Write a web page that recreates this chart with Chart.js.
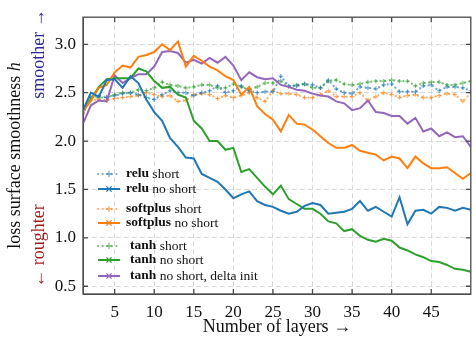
<!DOCTYPE html>
<html>
<head>
<meta charset="utf-8">
<script src="https://cdn.jsdelivr.net/npm/chart.js@4.4.1/dist/chart.umd.min.js"></script>
<style>
  html, body { margin: 0; padding: 0; background: #fff; }
  #wrap { width: 476px; height: 339px; }
</style>
</head>
<body>
<div id="wrap"><canvas id="chart" width="476" height="339"></canvas></div>
<script>
// number of layers on the x axis
const layers = [1,2,3,4,5,6,7,8,9,10,11,12,13,14,15,16,17,18,19,20,21,22,23,24,25,
  26,27,28,29,30,31,32,33,34,35,36,37,38,39,40,41,42,43,44,45,46,47,48,49,50];
const xTicks = [5, 10, 15, 20, 25, 30, 35, 40, 45];
const yTicks = [0.5, 1.0, 1.5, 2.0, 2.5, 3.0];

// smoothness per depth
const reluShort = [2.28,2.45,2.47,2.45,2.47,2.49,2.50,2.48,2.45,2.43,2.48,2.52,2.50,2.50,2.47,2.50,2.52,2.57,2.50,2.52,
  2.57,2.52,2.50,2.51,2.51,2.67,2.57,2.57,2.59,2.58,2.55,2.63,2.54,2.50,2.49,2.56,2.55,2.54,2.58,2.59,
  2.51,2.51,2.51,2.57,2.58,2.52,2.56,2.56,2.55,2.52];
const reluNoShort = [2.32,2.50,2.46,2.63,2.64,2.55,2.67,2.60,2.43,2.30,2.21,2.03,1.94,1.83,1.82,1.66,1.62,1.58,1.50,1.41,
  1.45,1.48,1.38,1.34,1.32,1.28,1.25,1.27,1.33,1.36,1.34,1.25,1.26,1.27,1.30,1.38,1.28,1.32,1.27,1.22,
  1.42,1.14,1.28,1.29,1.25,1.32,1.31,1.28,1.31,1.29];
const softplusShort = [2.30,2.42,2.43,2.42,2.44,2.45,2.46,2.47,2.50,2.48,2.46,2.47,2.41,2.42,2.48,2.49,2.48,2.44,2.47,2.45,
  2.47,2.50,2.45,2.41,2.52,2.49,2.49,2.48,2.45,2.45,2.48,2.52,2.46,2.46,2.46,2.50,2.42,2.46,2.50,2.48,
  2.45,2.47,2.48,2.45,2.45,2.47,2.49,2.48,2.41,2.50];
const softplusNoShort = [2.31,2.42,2.55,2.58,2.71,2.78,2.76,2.87,2.89,2.92,3.00,2.94,3.03,2.77,2.88,2.83,2.77,2.73,2.67,2.63,
  2.48,2.56,2.36,2.28,2.22,2.10,2.27,2.18,2.17,2.12,2.05,1.98,1.93,1.93,1.96,1.90,1.88,1.86,1.80,1.84,
  1.82,1.72,1.84,1.77,1.72,1.72,1.73,1.67,1.61,1.67];
const tanhShort = [2.30,2.45,2.45,2.45,2.48,2.50,2.50,2.53,2.52,2.55,2.61,2.58,2.57,2.55,2.56,2.58,2.58,2.55,2.55,2.59,
  2.56,2.53,2.56,2.60,2.60,2.62,2.56,2.58,2.59,2.55,2.55,2.62,2.63,2.59,2.58,2.59,2.61,2.62,2.62,2.63,
  2.62,2.62,2.57,2.60,2.61,2.61,2.58,2.58,2.60,2.62];
const tanhNoShort = [2.32,2.43,2.56,2.64,2.65,2.65,2.65,2.75,2.72,2.62,2.55,2.56,2.48,2.45,2.21,2.13,2.00,2.00,1.91,1.93,
  1.68,1.71,1.62,1.53,1.45,1.54,1.40,1.35,1.30,1.30,1.25,1.17,1.15,1.07,1.09,1.02,0.98,0.96,0.99,0.97,
  0.90,0.87,0.83,0.80,0.76,0.75,0.72,0.68,0.67,0.65];
const tanhDelta = [2.18,2.37,2.42,2.41,2.68,2.60,2.65,2.69,2.69,2.77,2.92,2.93,2.91,2.81,2.84,2.80,2.86,2.81,2.87,2.78,
  2.63,2.71,2.66,2.64,2.65,2.58,2.56,2.53,2.52,2.49,2.47,2.46,2.41,2.39,2.32,2.34,2.42,2.30,2.29,2.26,
  2.26,2.18,2.24,2.10,2.13,2.05,2.09,2.04,2.05,1.94];

const BLUE = '#1f77b4', ORANGE = '#ff7f0e', GREEN = '#2ca02c', PURPLE = '#9467bd';
const fade = c => c + 'a0';

const series = [
  { name: 'relu', rest: ' short', values: reluShort, color: BLUE, dotted: true, row: 174 },
  { name: 'relu', rest: ' no short', values: reluNoShort, color: BLUE, dotted: false, row: 189 },
  { name: 'softplus', rest: ' short', values: softplusShort, color: ORANGE, dotted: true, row: 209 },
  { name: 'softplus', rest: ' no short', values: softplusNoShort, color: ORANGE, dotted: false, row: 223 },
  { name: 'tanh', rest: ' short', values: tanhShort, color: GREEN, dotted: true, row: 246 },
  { name: 'tanh', rest: ' no short', values: tanhNoShort, color: GREEN, dotted: false, row: 260 },
  { name: 'tanh', rest: ' no short, delta init', values: tanhDelta, color: PURPLE, dotted: false, row: 276 }
];

const SERIF = '"Liberation Serif", "DejaVu Serif", serif';

const datasets = series.map(s => ({
  label: s.name + s.rest,
  data: s.values.map((v, i) => ({ x: layers[i], y: v })),
  borderColor: s.dotted ? fade(s.color) : s.color,
  backgroundColor: s.dotted ? fade(s.color) : s.color,
  borderWidth: s.dotted ? 2.2 : 2,
  borderDash: s.dotted ? [0.1, 4.5] : [],
  borderCapStyle: s.dotted ? 'round' : 'butt',
  pointStyle: 'cross',
  pointRadius: s.dotted ? 2.2 : 0,
  pointBorderWidth: 1.2,
  pointBorderColor: s.dotted ? fade(s.color) : s.color,
  tension: 0,
  clip: 0,
  order: s.dotted ? 1 : 0
}));

function drawMarker(ctx, x, y, r, rotated) {
  ctx.beginPath();
  if (rotated) {
    ctx.moveTo(x - r, y - r); ctx.lineTo(x + r, y + r);
    ctx.moveTo(x - r, y + r); ctx.lineTo(x + r, y - r);
  } else {
    ctx.moveTo(x - r, y); ctx.lineTo(x + r, y);
    ctx.moveTo(x, y - r); ctx.lineTo(x, y + r);
  }
  ctx.stroke();
}

// rotated text made of pieces with their own font and colour
function drawVertical(ctx, cx, cy, pieces) {
  ctx.save();
  ctx.translate(cx, cy);
  ctx.rotate(-Math.PI / 2);
  ctx.textBaseline = 'middle';
  ctx.textAlign = 'left';
  let total = 0;
  pieces.forEach(p => { ctx.font = p.font; total += ctx.measureText(p.text).width; });
  let pos = -total / 2;
  pieces.forEach(p => {
    ctx.font = p.font;
    ctx.fillStyle = p.color;
    ctx.fillText(p.text, pos, 0);
    pos += ctx.measureText(p.text).width;
  });
  ctx.restore();
}

const decorations = {
  id: 'decorations',
  afterDraw(chart) {
    const { ctx, chartArea: a, scales: { x, y } } = chart;
    ctx.save();

    // frame with inward ticks on every side
    ctx.strokeStyle = '#4a4a4a';
    ctx.lineWidth = 1.3;
    ctx.beginPath();
    xTicks.forEach(v => {
      const px = x.getPixelForValue(v);
      ctx.moveTo(px, a.top); ctx.lineTo(px, a.top + 5);
      ctx.moveTo(px, a.bottom); ctx.lineTo(px, a.bottom - 5);
    });
    yTicks.forEach(v => {
      const py = y.getPixelForValue(v);
      ctx.moveTo(a.left, py); ctx.lineTo(a.left + 5, py);
      ctx.moveTo(a.right, py); ctx.lineTo(a.right - 5, py);
    });
    ctx.stroke();
    ctx.strokeRect(a.left, a.top, a.right - a.left, a.bottom - a.top);

    // legend
    ctx.textBaseline = 'middle';
    series.forEach(s => {
      const c = s.dotted ? fade(s.color) : s.color;
      ctx.strokeStyle = c;
      ctx.lineWidth = s.dotted ? 2.2 : 2;
      ctx.lineCap = s.dotted ? 'round' : 'butt';
      ctx.setLineDash(s.dotted ? [0.1, 4.5] : []);
      ctx.beginPath();
      ctx.moveTo(98, s.row); ctx.lineTo(120, s.row);
      ctx.stroke();
      ctx.setLineDash([]);
      ctx.lineWidth = 1.3;
      drawMarker(ctx, 109, s.row, 2.6, !s.dotted);

      const tx = s.name === 'tanh' ? 130 : 126;
      ctx.fillStyle = '#111';
      ctx.font = 'bold 13.5px ' + SERIF;
      ctx.fillText(s.name, tx, s.row);
      const w = ctx.measureText(s.name).width;
      ctx.font = '13.5px ' + SERIF;
      ctx.fillText(s.rest, tx + w, s.row);
    });

    // axis titles
    ctx.fillStyle = '#111';
    ctx.font = '18px ' + SERIF;
    ctx.textAlign = 'center';
    ctx.textBaseline = 'alphabetic';
    ctx.fillText('Number of layers \u2192', (a.left + a.right) / 2, 332);

    drawVertical(ctx, 15, (a.top + a.bottom) / 2, [
      { text: 'loss surface smoothness ', font: '18px ' + SERIF, color: '#111' },
      { text: 'h', font: 'italic 18px ' + SERIF, color: '#111' }
    ]);
    drawVertical(ctx, 39, 54, [{ text: 'smoother \u2192', font: '18px ' + SERIF, color: '#2b2b96' }]);
    drawVertical(ctx, 39, 246, [{ text: '\u2190 roughter', font: '18px ' + SERIF, color: '#9e1b1b' }]);
    ctx.restore();
  }
};

new Chart(document.getElementById('chart'), {
  type: 'line',
  data: { datasets },
  options: {
    responsive: false,
    devicePixelRatio: 1,
    animation: false,
    layout: { padding: { top: 7, right: 1, left: 0, bottom: 0 } },
    plugins: { legend: { display: false }, tooltip: { enabled: false } },
    scales: {
      x: {
        type: 'linear',
        min: 1,
        max: 50,
        afterBuildTicks: s => { s.ticks = xTicks.map(v => ({ value: v })); },
        afterFit: s => { s.height = 45; },
        ticks: { color: '#111', padding: 8, font: { family: SERIF, size: 17 }, callback: v => String(v) },
        grid: { color: '#d9d9d9', lineWidth: 1, drawTicks: false },
        border: { display: true, color: '#4a4a4a', dash: [5, 3] }
      },
      y: {
        min: 0.42,
        max: 3.28,
        afterBuildTicks: s => { s.ticks = yTicks.map(v => ({ value: v })); },
        afterFit: s => { s.width = 83; },
        ticks: { color: '#111', padding: 7, font: { family: SERIF, size: 17 }, callback: v => v.toFixed(1) },
        grid: { color: '#d9d9d9', lineWidth: 1, drawTicks: false },
        border: { display: true, color: '#4a4a4a', dash: [5, 3] }
      }
    }
  },
  plugins: [decorations]
});
</script>
</body>
</html>
